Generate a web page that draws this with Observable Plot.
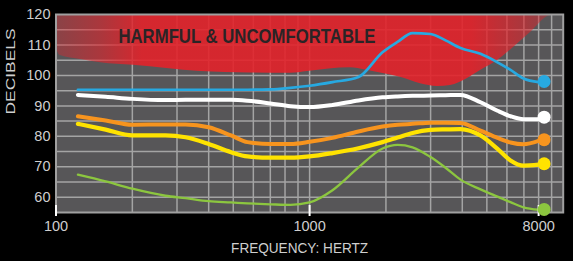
<!DOCTYPE html>
<html><head><meta charset="utf-8">
<script src="https://cdn.jsdelivr.net/npm/d3@7"></script>
<script src="https://cdn.jsdelivr.net/npm/@observablehq/plot@0.6"></script>
<style>
html,body{margin:0;padding:0;background:#000;}
#chart svg{display:block;}
</style></head><body>
<div id="chart"></div>
<script>
// Frequencies (Hz) sampled along the curves
const freqs = [122,157,200,270,324,400,490,569,700,841,1000,1231,1559,1939,2222,2546,3000,3435,3936,4719,5508,6197,6972,8000];
// Series values (dB)
const blue   = [95.3,95.3,95.3,95.3,95.3,95.3,95.3,95.3,95.4,95.9,96.6,97.8,99.5,107.6,111.0,113.9,113.6,111.5,109.0,107.1,104.3,101.8,99.0,97.8];
const white  = [93.6,93.0,92.3,91.9,92.0,92.0,92.0,91.7,90.8,89.9,89.6,90.3,91.8,92.8,93.1,93.3,93.4,93.5,93.6,91.2,88.4,86.6,85.6,85.6];
const orange = [86.6,85.2,83.8,83.9,83.9,83.0,80.3,78.1,77.5,77.5,78.2,79.5,81.6,83.2,83.8,84.1,84.5,84.5,84.4,81.9,79.5,78.0,77.4,78.5];
const yellow = [84.1,82.2,80.3,80.3,79.7,77.5,74.8,73.4,73.0,73.0,73.4,74.5,76.1,78.1,79.6,81.1,82.1,82.3,82.4,80.3,75.9,72.1,70.4,70.7];
const green  = [67.4,65.2,62.8,60.5,59.7,58.7,58.3,58.0,57.7,57.5,58.3,62.3,69.8,76.0,77.2,76.4,73.2,69.7,65.8,62.6,60.2,58.4,56.7,55.9];
// End-point dots at 8000 Hz (dB)
const dotFreq = 8000;
const dotValues = [98.0, 86.3, 78.9, 71.0, 56.0];
const seriesNames = ["blue","white","orange","yellow","green"];
const seriesColors = ["#27a9e1","#ffffff","#f7941e","#ffe300","#8cc63f"];
const seriesWidths = [2.7, 4, 4, 4.2, 2.3];

// Harmful & uncomfortable zone lower boundary
const harmFreq = [100,104,125,150,202,371,585,841,981,1450,1661,1904,2282,2737,3194,3594,4194,4719,5508,6368,7431,8911,10000];
const harmDb   = [109.2,106.5,105.2,104.2,103.3,101.3,100.8,100.7,101.3,102.5,101.8,100.8,99.4,97.3,96.4,96.7,99.0,101.6,104.9,109.2,114.1,119.7,120];
const harmLabel = [{text: "HARMFUL & UNCOMFORTABLE", f: 566, db: 112.8}];

// Axes
const xTicks = [100, 1000, 8000];
const yTicks = [60, 70, 80, 90, 100, 110, 120];
const gridX = [200,300,400,500,600,700,800,900,1000,2000,3000,4000,5000,6000,7000,8000,9000];
const gridY = [60,65,70,75,80,85,90,95,100,105,110,115];
const xLabel = "FREQUENCY: HERTZ";
const yLabel = "DECIBELS";

const harm = harmFreq.map((f, i) => ({f, db: harmDb[i]}));
const rows = [];
seriesNames.forEach((s, k) => {
  const vals = [blue, white, orange, yellow, green][k];
  freqs.forEach((f, i) => rows.push({series: s, f, db: vals[i]}));
});
const dots = seriesNames.map((s, k) => ({series: s, f: dotFreq, db: dotValues[k]}));

const lineMarks = seriesNames.slice().reverse().map(s => {
  const k = seriesNames.indexOf(s);
  return Plot.line(rows.filter(r => r.series === s), {
    x: "f", y: "db", stroke: seriesColors[k], strokeWidth: seriesWidths[k],
    curve: "monotone-x", strokeLinecap: "round", strokeLinejoin: "round"
  });
});

const chart = Plot.plot({
  width: 573, height: 261,
  marginLeft: 55.5, marginRight: 10.3, marginTop: 14, marginBottom: 49,
  style: {background: "#000", color: "#cfcfcf", fontFamily: "'Liberation Sans', Arial, sans-serif", fontSize: "14.5px"},
  x: {type: "log", domain: [100, 10000], axis: null},
  y: {domain: [55, 120], ticks: yTicks, tickSize: 0, tickPadding: 5.5, label: null},
  marks: [
    Plot.frame({fill: "#575658"}),
    Plot.ruleX(gridX, {stroke: "#a4a4a4", strokeWidth: 1.5}),
    Plot.ruleY(gridY, {stroke: "#a4a4a4", strokeWidth: 1.5}),
    Plot.areaY(harm, {x: "f", y1: "db", y2: 120, fill: "url(#harmGrad)", curve: "monotone-x"}),
    Plot.text(harmLabel, {x: "f", y: "db", text: "text", fill: "#2a2426", fontSize: 20, fontWeight: "bold", fontFamily: "'Liberation Sans Narrow', 'Liberation Sans', Arial, sans-serif"}),
    Plot.frame({stroke: "#a0a0a0", strokeWidth: 2}),
    ...lineMarks,
    Plot.ruleX(xTicks, {y1: 55, y2: 55, insetTop: -7, insetBottom: -4, stroke: "#ffffff", strokeWidth: 2}),
    Plot.dot(dots, {x: "f", y: "db", r: 6.5, fill: d => seriesColors[seriesNames.indexOf(d.series)], dx: 5.5}),
    Plot.text(xTicks, {x: d => d, frameAnchor: "bottom", text: d => String(d), lineAnchor: "top", dy: 8.7, fill: "#cfcfcf", fontSize: 14.5}),
    Plot.text([xLabel], {frameAnchor: "bottom", text: d => d, dy: 40.5, dx: -10, fill: "#cfcfcf", fontSize: 14}),
    Plot.text([yLabel], {frameAnchor: "left", text: d => d, rotate: -90, dx: -45, dy: 1, fill: "#cfcfcf", fontSize: 13.5})
  ]
});

const svg = d3.select(chart);
const defs = svg.insert("defs", ":first-child");
const grad = defs.append("linearGradient").attr("id", "harmGrad").attr("x1", "0").attr("x2", "1").attr("y1", "0").attr("y2", "0");
[[0, 0.36], [0.09, 0.6], [0.17, 0.9], [0.82, 0.9], [0.92, 0.6], [1, 0.25]].forEach(([o, a]) =>
  grad.append("stop").attr("offset", o).attr("stop-color", "#e3222a").attr("stop-opacity", a));
svg.selectAll("text").filter(function() { return this.textContent === harmLabel[0].text; })
  .attr("textLength", 257).attr("lengthAdjust", "spacingAndGlyphs");
svg.selectAll("text").filter(function() { return this.textContent === yLabel; })
  .attr("textLength", 86).attr("lengthAdjust", "spacingAndGlyphs");
svg.selectAll("text").filter(function() { return this.textContent === xLabel; })
  .attr("textLength", 137).attr("lengthAdjust", "spacingAndGlyphs");
document.getElementById("chart").appendChild(chart);
</script>
</body></html>
